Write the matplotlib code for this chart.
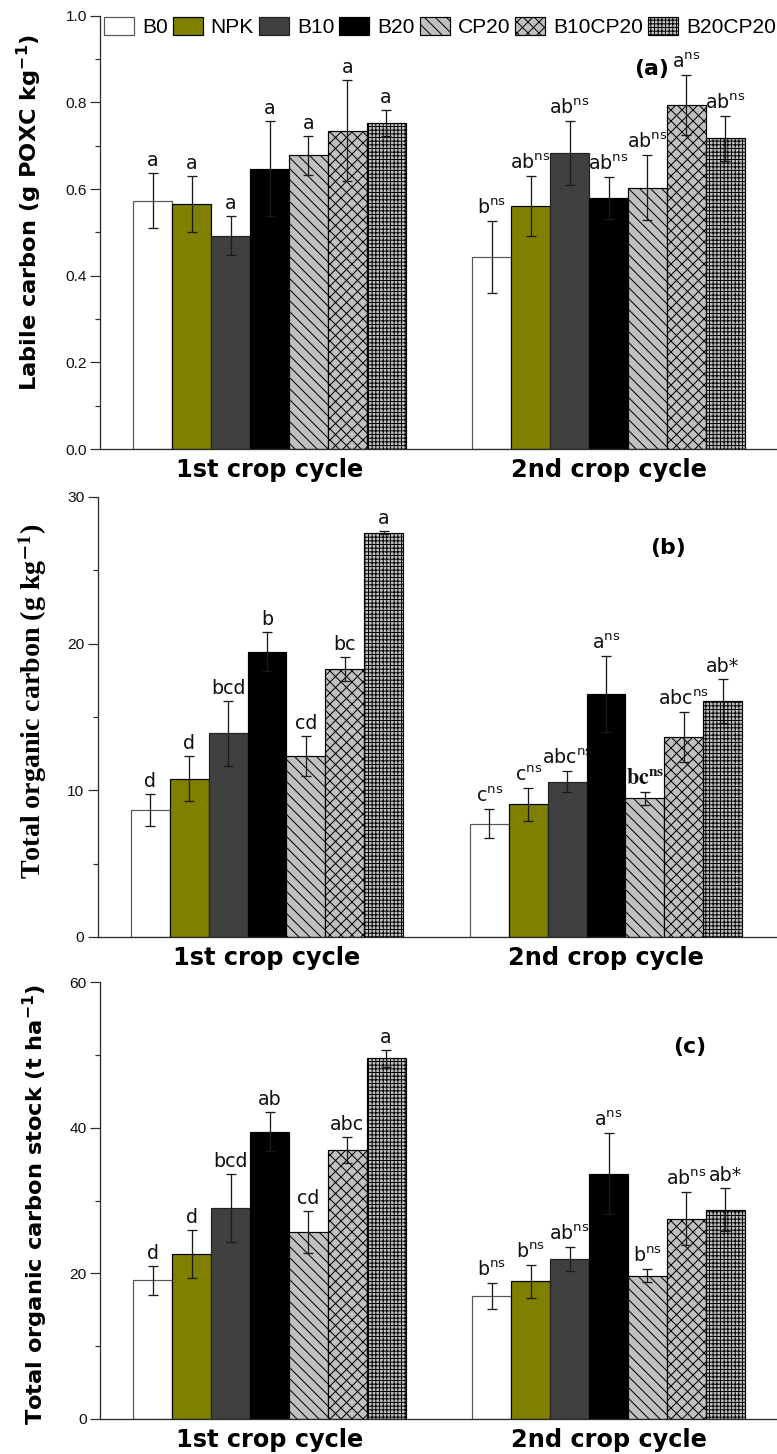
import numpy as np
import matplotlib
matplotlib.use("Agg")
import matplotlib.pyplot as plt
from matplotlib.ticker import MultipleLocator, FormatStrFormatter

DPI = 200 / 3
FIG_W, FIG_H = 777, 1454


def pt(px):
    """Convert a length in output pixels to points."""
    return px * 72.0 / DPI


treatments = ["B0", "NPK", "B10", "B20", "CP20", "B10CP20", "B20CP20"]
cycles = ["1st crop cycle", "2nd crop cycle"]

# (a) Labile carbon, g POXC kg-1
poxc_c1 = [0.573, 0.565, 0.492, 0.647, 0.678, 0.735, 0.752]
poxc_c1_sd = [0.063, 0.065, 0.045, 0.110, 0.045, 0.117, 0.030]
poxc_c2 = [0.444, 0.561, 0.683, 0.579, 0.603, 0.794, 0.717]
poxc_c2_sd = [0.083, 0.070, 0.073, 0.049, 0.075, 0.070, 0.052]
poxc_c1_let = ["a", "a", "a", "a", "a", "a", "a"]
poxc_c2_let = ["b", "ab", "ab", "ab", "ab", "a", "ab"]
poxc_c2_sig = ["ns", "ns", "ns", "ns", "ns", "ns", "ns"]

# (b) Total organic carbon, g kg-1
toc_c1 = [8.64, 10.79, 13.89, 19.45, 12.34, 18.27, 27.56]
toc_c1_sd = [1.10, 1.55, 2.20, 1.32, 1.34, 0.80, 0.10]
toc_c2 = [7.72, 9.05, 10.59, 16.59, 9.45, 13.65, 16.09]
toc_c2_sd = [0.98, 1.13, 0.71, 2.59, 0.43, 1.69, 1.52]
toc_c1_let = ["d", "d", "bcd", "b", "cd", "bc", "a"]
toc_c2_let = ["c", "c", "abc", "a", "bc", "abc", "ab"]
toc_c2_sig = ["ns", "ns", "ns", "ns", "ns", "ns", "*"]

# (c) Total organic carbon stock, t ha-1
stock_c1 = [19.05, 22.66, 28.94, 39.46, 25.69, 36.95, 49.5]
stock_c1_sd = [2.0, 3.34, 4.7, 2.7, 2.9, 1.8, 1.2]
stock_c2 = [16.94, 18.91, 21.98, 33.7, 19.69, 27.52, 28.76]
stock_c2_sd = [1.8, 2.3, 1.7, 5.5, 0.87, 3.6, 2.9]
stock_c1_let = ["d", "d", "bcd", "ab", "cd", "abc", "a"]
stock_c2_let = ["b", "b", "ab", "a", "b", "ab", "ab"]
stock_c2_sig = ["ns", "ns", "ns", "ns", "ns", "ns", "*"]

# bar appearance per treatment
fills = ["white", "#808000", "#404040", "black", "#c0c0c0", "#c0c0c0", "#c0c0c0"]
edges = ["#555555", "black", "#222222", "black", "black", "black", "black"]
hatches = [None, None, None, None, "\\\\", "xx", "+++"]

plt.rcParams["hatch.linewidth"] = pt(1.0)
plt.rcParams["font.family"] = ["Liberation Sans", "DejaVu Sans"]

BAR_W = 0.1147
AXIS_COL = "#2b2b2b"

fig = plt.figure(figsize=(FIG_W / DPI, FIG_H / DPI), dpi=DPI)


def add_panel(left, top, bottom):
    return fig.add_axes([left / FIG_W, 1 - bottom / FIG_H,
                         678 / FIG_W, (bottom - top) / FIG_H])


def sup_label(letter, sig):
    if sig == "ns":
        return letter + r"$^{\mathrm{ns}}$"
    return letter + sig


def draw_panel(ax, c1, c1_sd, c2, c2_sd, let1, let2, sig2, serif_bold=()):
    x = np.arange(len(cycles))
    containers = []
    for i in range(len(treatments)):
        xi = x + (i - 3) * BAR_W
        h = [c1[i], c2[i]]
        e = [c1_sd[i], c2_sd[i]]
        bc = ax.bar(xi, h, BAR_W, yerr=e, color=fills[i], edgecolor=edges[i],
                    hatch=hatches[i], linewidth=pt(1.2), label=treatments[i],
                    error_kw=dict(ecolor="#1a1a1a", elinewidth=pt(1.3),
                                  capsize=pt(5), capthick=pt(1.3)))
        containers.append(bc)
        texts = [let1[i], sup_label(let2[i], sig2[i])]
        for k in range(2):
            kw = dict(family="DejaVu Sans", size=pt(19))
            s = texts[k]
            if (k, i) in serif_bold:
                s = r"$\mathbf{%s}^{\mathbf{%s}}$" % (let2[i], sig2[i])
                kw = dict(size=pt(22), math_fontfamily="stix")
            ax.annotate(s, (xi[k], h[k] + e[k]), xytext=(0, pt(3)),
                        textcoords="offset points", ha="center", va="bottom",
                        color="#111111", **kw)
    ax.set_xlim(-0.5, 1.5)
    ax.set_xticks(x)
    ax.set_xticklabels(cycles, family="DejaVu Sans", fontweight="bold",
                       size=pt(24))
    ax.tick_params(axis="x", length=0, pad=pt(9))
    ax.tick_params(axis="y", which="major", direction="out", length=pt(10),
                   width=pt(1.2), color=AXIS_COL, labelsize=pt(15.5),
                   pad=pt(3), labelcolor="#111111")
    ax.tick_params(axis="y", which="minor", direction="out", length=pt(5),
                   width=pt(1.2), color=AXIS_COL)
    for side in ("top", "right"):
        ax.spines[side].set_visible(False)
    for side in ("left", "bottom"):
        ax.spines[side].set_color(AXIS_COL)
        ax.spines[side].set_linewidth(pt(1.3))
    return containers


# (a)
ax_a = add_panel(100, 15.7, 449)
bars = draw_panel(ax_a, poxc_c1, poxc_c1_sd, poxc_c2, poxc_c2_sd,
                  poxc_c1_let, poxc_c2_let, poxc_c2_sig)
ax_a.set_ylim(0, 1.0)
ax_a.yaxis.set_major_locator(MultipleLocator(0.2))
ax_a.yaxis.set_minor_locator(MultipleLocator(0.1))
ax_a.yaxis.set_major_formatter(FormatStrFormatter("%.1f"))
ax_a.set_ylabel(r"Labile carbon (g POXC kg$^{\mathbf{-1}}$)",
                family="DejaVu Sans", fontweight="bold", size=pt(22.5),
                va="center")
ax_a.yaxis.set_label_coords((29 - 100) / 678, (449 - 212) / 433.3)
ax_a.legend(bars, treatments, loc="upper left",
            bbox_to_anchor=(104 / FIG_W, 1 - 17 / FIG_H),
            bbox_transform=fig.transFigure, ncol=7, frameon=False,
            borderpad=0, borderaxespad=0, handlelength=30 / 21,
            handleheight=20 / 21, handletextpad=8 / 21,
            columnspacing=5 / 21,
            prop={"family": "Liberation Sans", "size": pt(21)})
fig.text(652 / FIG_W, 1 - 69 / FIG_H, "(a)", ha="center", va="center",
         family="DejaVu Sans", fontweight="bold", size=pt(22))

# (b)
ax_b = add_panel(97.5, 497, 937)
draw_panel(ax_b, toc_c1, toc_c1_sd, toc_c2, toc_c2_sd,
           toc_c1_let, toc_c2_let, toc_c2_sig, serif_bold={(1, 4)})
ax_b.set_ylim(0, 30)
ax_b.yaxis.set_major_locator(MultipleLocator(10))
ax_b.yaxis.set_minor_locator(MultipleLocator(5))
ax_b.set_ylabel(r"Total organic carbon (g kg$^{\mathbf{-1}}$)",
                family="Liberation Serif", fontweight="bold", size=pt(28),
                math_fontfamily="stix", va="center")
ax_b.yaxis.set_label_coords((33 - 97.5) / 678, (937 - 701) / 440)
fig.text(668 / FIG_W, 1 - 548 / FIG_H, "(b)", ha="center", va="center",
         family="DejaVu Sans", fontweight="bold", size=pt(22))

# (c)
ax_c = add_panel(100, 982, 1419)
draw_panel(ax_c, stock_c1, stock_c1_sd, stock_c2, stock_c2_sd,
           stock_c1_let, stock_c2_let, stock_c2_sig)
ax_c.set_ylim(0, 60)
ax_c.yaxis.set_major_locator(MultipleLocator(20))
ax_c.yaxis.set_minor_locator(MultipleLocator(10))
ax_c.set_ylabel(r"Total organic carbon stock (t ha$^{\mathbf{-1}}$)",
                family="DejaVu Sans", fontweight="bold", size=pt(22.5),
                va="center")
ax_c.yaxis.set_label_coords((35 - 100) / 678, 0.49)
fig.text(690 / FIG_W, 1 - 1047 / FIG_H, "(c)", ha="center", va="center",
         family="DejaVu Sans", fontweight="bold", size=pt(22))

fig.savefig("out.png", dpi=DPI)
